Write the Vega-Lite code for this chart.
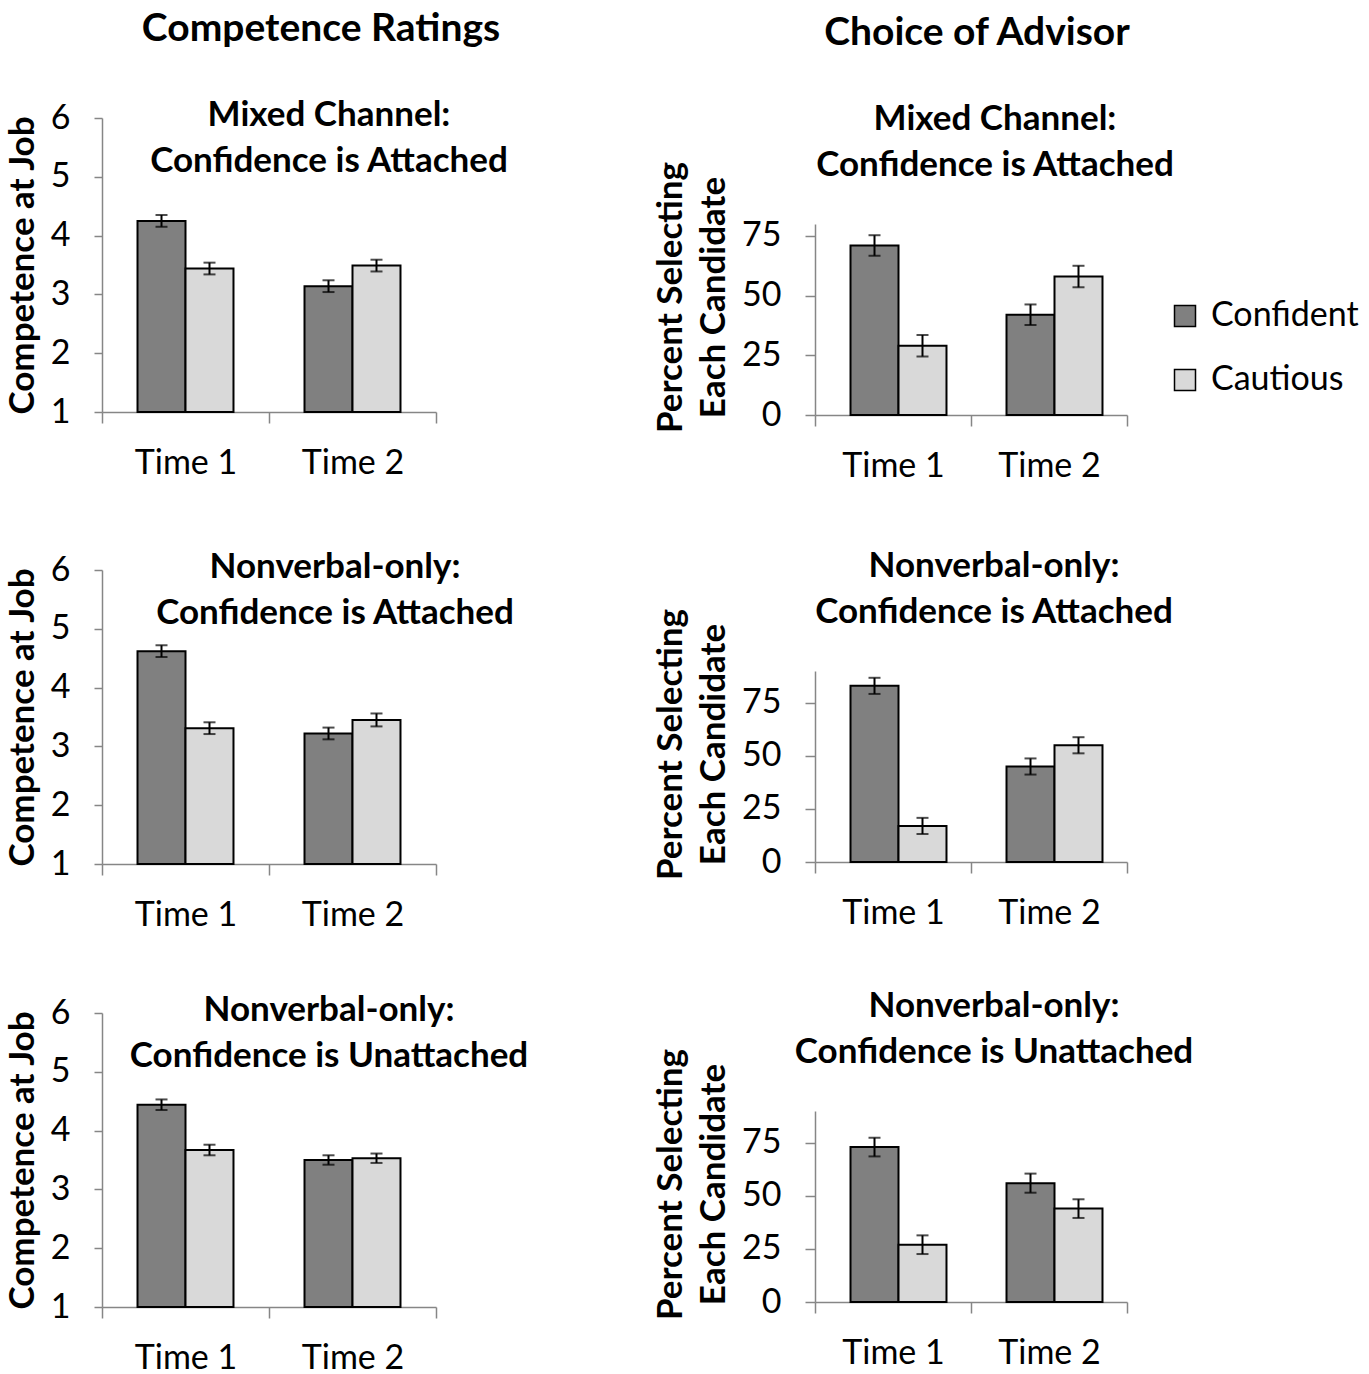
{
  "$schema": "https://vega.github.io/schema/vega-lite/v6.json",
  "background": "white",
  "padding": {"left": 5, "top": 10, "right": 0, "bottom": 0},
  "config": {
    "font": "Lato",
    "view": {"stroke": null},
    "axis": {"grid": false, "domainColor": "#868686", "domainWidth": 1.5, "tickColor": "#868686", "tickWidth": 1.5, "labelColor": "black", "labelFontSize": 34, "labelFont": "Lato", "titleFont": "Lato", "titleFontSize": 35, "titleFontWeight": "bold", "titleColor": "black"},
    "axisX": {"tickSize": 11, "labelPadding": 23, "labelAngle": 0, "tickBand": "extent"},
    "axisY": {"tickSize": 8, "labelPadding": 24, "titlePadding": 10, "format": "d"},
    "title": {"font": "Lato", "fontSize": 35, "fontWeight": "bold", "color": "black", "frame": "group", "lineHeight": 46}
  },
  "datasets": {
    "d": [
      {"panel": "A1", "time": "Time 1", "cond": "Confident", "value": 4.25, "lo": 4.15, "hi": 4.35},
      {"panel": "A1", "time": "Time 1", "cond": "Cautious", "value": 3.44, "lo": 3.34, "hi": 3.54},
      {"panel": "A1", "time": "Time 2", "cond": "Confident", "value": 3.14, "lo": 3.04, "hi": 3.24},
      {"panel": "A1", "time": "Time 2", "cond": "Cautious", "value": 3.49, "lo": 3.39, "hi": 3.59},
      {"panel": "A2", "time": "Time 1", "cond": "Confident", "value": 4.62, "lo": 4.52, "hi": 4.72},
      {"panel": "A2", "time": "Time 1", "cond": "Cautious", "value": 3.31, "lo": 3.21, "hi": 3.41},
      {"panel": "A2", "time": "Time 2", "cond": "Confident", "value": 3.22, "lo": 3.12, "hi": 3.32},
      {"panel": "A2", "time": "Time 2", "cond": "Cautious", "value": 3.45, "lo": 3.34, "hi": 3.56},
      {"panel": "A3", "time": "Time 1", "cond": "Confident", "value": 4.44, "lo": 4.35, "hi": 4.53},
      {"panel": "A3", "time": "Time 1", "cond": "Cautious", "value": 3.67, "lo": 3.58, "hi": 3.76},
      {"panel": "A3", "time": "Time 2", "cond": "Confident", "value": 3.50, "lo": 3.42, "hi": 3.58},
      {"panel": "A3", "time": "Time 2", "cond": "Cautious", "value": 3.53, "lo": 3.45, "hi": 3.61},
      {"panel": "B1", "time": "Time 1", "cond": "Confident", "value": 71, "lo": 66.7, "hi": 75.3},
      {"panel": "B1", "time": "Time 1", "cond": "Cautious", "value": 29, "lo": 24.5, "hi": 33.5},
      {"panel": "B1", "time": "Time 2", "cond": "Confident", "value": 42, "lo": 37.7, "hi": 46.3},
      {"panel": "B1", "time": "Time 2", "cond": "Cautious", "value": 58, "lo": 53.5, "hi": 62.5},
      {"panel": "B2", "time": "Time 1", "cond": "Confident", "value": 83, "lo": 79.2, "hi": 86.8},
      {"panel": "B2", "time": "Time 1", "cond": "Cautious", "value": 17, "lo": 13.2, "hi": 20.8},
      {"panel": "B2", "time": "Time 2", "cond": "Confident", "value": 45, "lo": 41.2, "hi": 48.8},
      {"panel": "B2", "time": "Time 2", "cond": "Cautious", "value": 55, "lo": 51.2, "hi": 58.8},
      {"panel": "B3", "time": "Time 1", "cond": "Confident", "value": 73, "lo": 68.6, "hi": 77.4},
      {"panel": "B3", "time": "Time 1", "cond": "Cautious", "value": 27, "lo": 22.6, "hi": 31.4},
      {"panel": "B3", "time": "Time 2", "cond": "Confident", "value": 56, "lo": 51.5, "hi": 60.5},
      {"panel": "B3", "time": "Time 2", "cond": "Cautious", "value": 44, "lo": 39.6, "hi": 48.4}
    ]
  },
  "resolve": {"legend": {"color": "independent"}, "scale": {"color": "independent"}},
  "spacing": 124,
  "hconcat": [
    {
      "resolve": {"legend": {"color": "independent"}, "scale": {"color": "independent"}},
      "spacing": 48,
      "vconcat": [
        {
          "width": 334, "height": 1,
          "data": {"values": []},
          "mark": {"type": "point", "opacity": 0},
          "title": {"text": "Competence Ratings", "fontSize": 39, "dx": 52, "offset": 0}
        },
        {
          "resolve": {"legend": {"color": "independent"}, "scale": {"color": "independent"}},
          "spacing": 70,
          "vconcat": [
            {
              "width": 334, "height": 294,
              "data": {"name": "d"},
              "title": {"text": ["Mixed Channel:", "Confidence is Attached"], "dx": 60, "offset": -78},
              "transform": [{"filter": "datum.panel === 'A1'"}],
              "encoding": {
                "x": {"field": "time", "type": "nominal", "title": null, "scale": {"paddingInner": 0, "paddingOuter": 0}},
                "xOffset": {"field": "cond", "type": "nominal", "sort": ["Confident", "Cautious"], "scale": {"paddingInner": 0, "paddingOuter": 0.74}}
              },
              "layer": [
                {"mark": {"type": "bar", "stroke": "black", "strokeWidth": 2},
                 "encoding": {
                   "y": {"field": "value", "type": "quantitative", "title": "Competence at Job", "scale": {"domain": [1, 6]}, "axis": {"values": [1, 2, 3, 4, 5, 6]}},
                   "y2": {"datum": 1},
                   "color": {"field": "cond", "type": "nominal", "scale": {"domain": ["Confident", "Cautious"], "range": ["#808080", "#d9d9d9"]}, "legend": null}}},
                {"mark": {"type": "rule", "strokeWidth": 2, "color": "black"}, "encoding": {"y": {"field": "lo", "type": "quantitative", "title": "Competence at Job"}, "y2": {"field": "hi"}}},
                {"mark": {"type": "tick", "thickness": 2, "size": 12, "color": "black"}, "encoding": {"y": {"field": "lo", "type": "quantitative", "title": "Competence at Job"}}},
                {"mark": {"type": "tick", "thickness": 2, "size": 12, "color": "black"}, "encoding": {"y": {"field": "hi", "type": "quantitative", "title": "Competence at Job"}}}
              ]
            },
            {
              "resolve": {"legend": {"color": "independent"}, "scale": {"color": "independent"}},
              "spacing": 61,
              "vconcat": [
                {
                  "width": 334, "height": 294,
                  "data": {"name": "d"},
                  "title": {"text": ["Nonverbal-only:", "Confidence is Attached"], "dx": 66, "offset": -78},
                  "transform": [{"filter": "datum.panel === 'A2'"}],
                  "encoding": {
                    "x": {"field": "time", "type": "nominal", "title": null, "scale": {"paddingInner": 0, "paddingOuter": 0}},
                    "xOffset": {"field": "cond", "type": "nominal", "sort": ["Confident", "Cautious"], "scale": {"paddingInner": 0, "paddingOuter": 0.74}}
                  },
                  "layer": [
                    {"mark": {"type": "bar", "stroke": "black", "strokeWidth": 2},
                     "encoding": {
                       "y": {"field": "value", "type": "quantitative", "title": "Competence at Job", "scale": {"domain": [1, 6]}, "axis": {"values": [1, 2, 3, 4, 5, 6]}},
                       "y2": {"datum": 1},
                       "color": {"field": "cond", "type": "nominal", "scale": {"domain": ["Confident", "Cautious"], "range": ["#808080", "#d9d9d9"]}, "legend": null}}},
                    {"mark": {"type": "rule", "strokeWidth": 2, "color": "black"}, "encoding": {"y": {"field": "lo", "type": "quantitative", "title": "Competence at Job"}, "y2": {"field": "hi"}}},
                    {"mark": {"type": "tick", "thickness": 2, "size": 12, "color": "black"}, "encoding": {"y": {"field": "lo", "type": "quantitative", "title": "Competence at Job"}}},
                    {"mark": {"type": "tick", "thickness": 2, "size": 12, "color": "black"}, "encoding": {"y": {"field": "hi", "type": "quantitative", "title": "Competence at Job"}}}
                  ]
                },
                {
                  "width": 334, "height": 294,
                  "data": {"name": "d"},
                  "title": {"text": ["Nonverbal-only:", "Confidence is Unattached"], "dx": 60, "offset": -78},
                  "transform": [{"filter": "datum.panel === 'A3'"}],
                  "encoding": {
                    "x": {"field": "time", "type": "nominal", "title": null, "scale": {"paddingInner": 0, "paddingOuter": 0}},
                    "xOffset": {"field": "cond", "type": "nominal", "sort": ["Confident", "Cautious"], "scale": {"paddingInner": 0, "paddingOuter": 0.74}}
                  },
                  "layer": [
                    {"mark": {"type": "bar", "stroke": "black", "strokeWidth": 2},
                     "encoding": {
                       "y": {"field": "value", "type": "quantitative", "title": "Competence at Job", "scale": {"domain": [1, 6]}, "axis": {"values": [1, 2, 3, 4, 5, 6]}},
                       "y2": {"datum": 1},
                       "color": {"field": "cond", "type": "nominal", "scale": {"domain": ["Confident", "Cautious"], "range": ["#808080", "#d9d9d9"]}, "legend": null}}},
                    {"mark": {"type": "rule", "strokeWidth": 2, "color": "black"}, "encoding": {"y": {"field": "lo", "type": "quantitative", "title": "Competence at Job"}, "y2": {"field": "hi"}}},
                    {"mark": {"type": "tick", "thickness": 2, "size": 12, "color": "black"}, "encoding": {"y": {"field": "lo", "type": "quantitative", "title": "Competence at Job"}}},
                    {"mark": {"type": "tick", "thickness": 2, "size": 12, "color": "black"}, "encoding": {"y": {"field": "hi", "type": "quantitative", "title": "Competence at Job"}}}
                  ]
                }
              ]
            }
          ]
        }
      ]
    },
    {
      "resolve": {"legend": {"color": "independent"}, "scale": {"color": "independent"}},
      "spacing": 49,
      "vconcat": [
        {
          "width": 312, "height": 1,
          "data": {"values": []},
          "mark": {"type": "point", "opacity": 0},
          "title": {"text": "Choice of Advisor", "fontSize": 39, "dx": 6, "offset": -4}
        },
        {
          "resolve": {"legend": {"color": "independent"}, "scale": {"color": "independent"}},
          "spacing": 66,
          "vconcat": [
            {
              "width": 312, "height": 191,
              "data": {"name": "d"},
              "title": {"text": ["Mixed Channel:", "Confidence is Attached"], "dx": 24, "offset": -22},
              "transform": [{"filter": "datum.panel === 'B1'"}],
              "encoding": {
                "x": {"field": "time", "type": "nominal", "title": null, "scale": {"paddingInner": 0, "paddingOuter": 0}},
                "xOffset": {"field": "cond", "type": "nominal", "sort": ["Confident", "Cautious"], "scale": {"paddingInner": 0, "paddingOuter": 0.74}}
              },
              "layer": [
                {"mark": {"type": "bar", "stroke": "black", "strokeWidth": 2},
                 "encoding": {
                   "y": {"field": "value", "type": "quantitative", "title": ["Percent Selecting", "Each Candidate"], "scale": {"domain": [0, 80]}, "axis": {"values": [0, 25, 50, 75], "tickSize": 10, "titleLineHeight": 43, "titleY": 73}},
                   "y2": {"datum": 0},
                   "color": {"field": "cond", "type": "nominal", "scale": {"domain": ["Confident", "Cautious"], "range": ["#808080", "#d9d9d9"]},
                     "legend": {"orient": "none", "legendX": 353, "legendY": 75, "title": null, "symbolType": "square", "symbolSize": 441, "symbolStrokeColor": "black", "symbolStrokeWidth": 1.5, "symbolOpacity": 1, "labelFontSize": 34, "labelFont": "Lato", "labelColor": "black", "labelOffset": 9, "rowPadding": 30}}}},
                {"mark": {"type": "rule", "strokeWidth": 2, "color": "black"}, "encoding": {"y": {"field": "lo", "type": "quantitative", "title": ["Percent Selecting", "Each Candidate"]}, "y2": {"field": "hi"}}},
                {"mark": {"type": "tick", "thickness": 2, "size": 12, "color": "black"}, "encoding": {"y": {"field": "lo", "type": "quantitative", "title": ["Percent Selecting", "Each Candidate"]}}},
                {"mark": {"type": "tick", "thickness": 2, "size": 12, "color": "black"}, "encoding": {"y": {"field": "hi", "type": "quantitative", "title": ["Percent Selecting", "Each Candidate"]}}}
              ]
            },
            {
              "resolve": {"legend": {"color": "independent"}, "scale": {"color": "independent"}},
              "spacing": 59,
              "vconcat": [
                {
                  "width": 312, "height": 191,
                  "data": {"name": "d"},
                  "title": {"text": ["Nonverbal-only:", "Confidence is Attached"], "dx": 23, "offset": -22},
                  "transform": [{"filter": "datum.panel === 'B2'"}],
                  "encoding": {
                    "x": {"field": "time", "type": "nominal", "title": null, "scale": {"paddingInner": 0, "paddingOuter": 0}},
                    "xOffset": {"field": "cond", "type": "nominal", "sort": ["Confident", "Cautious"], "scale": {"paddingInner": 0, "paddingOuter": 0.74}}
                  },
                  "layer": [
                    {"mark": {"type": "bar", "stroke": "black", "strokeWidth": 2},
                     "encoding": {
                       "y": {"field": "value", "type": "quantitative", "title": ["Percent Selecting", "Each Candidate"], "scale": {"domain": [0, 90]}, "axis": {"values": [0, 25, 50, 75], "tickSize": 10, "titleLineHeight": 43, "titleY": 73}},
                       "y2": {"datum": 0},
                       "color": {"field": "cond", "type": "nominal", "scale": {"domain": ["Confident", "Cautious"], "range": ["#808080", "#d9d9d9"]}, "legend": null}}},
                    {"mark": {"type": "rule", "strokeWidth": 2, "color": "black"}, "encoding": {"y": {"field": "lo", "type": "quantitative", "title": ["Percent Selecting", "Each Candidate"]}, "y2": {"field": "hi"}}},
                    {"mark": {"type": "tick", "thickness": 2, "size": 12, "color": "black"}, "encoding": {"y": {"field": "lo", "type": "quantitative", "title": ["Percent Selecting", "Each Candidate"]}}},
                    {"mark": {"type": "tick", "thickness": 2, "size": 12, "color": "black"}, "encoding": {"y": {"field": "hi", "type": "quantitative", "title": ["Percent Selecting", "Each Candidate"]}}}
                  ]
                },
                {
                  "width": 312, "height": 191,
                  "data": {"name": "d"},
                  "title": {"text": ["Nonverbal-only:", "Confidence is Unattached"], "dx": 23, "offset": -22},
                  "transform": [{"filter": "datum.panel === 'B3'"}],
                  "encoding": {
                    "x": {"field": "time", "type": "nominal", "title": null, "scale": {"paddingInner": 0, "paddingOuter": 0}},
                    "xOffset": {"field": "cond", "type": "nominal", "sort": ["Confident", "Cautious"], "scale": {"paddingInner": 0, "paddingOuter": 0.74}}
                  },
                  "layer": [
                    {"mark": {"type": "bar", "stroke": "black", "strokeWidth": 2},
                     "encoding": {
                       "y": {"field": "value", "type": "quantitative", "title": ["Percent Selecting", "Each Candidate"], "scale": {"domain": [0, 85]}, "axis": {"values": [0, 25, 50, 75], "tickSize": 10, "titleLineHeight": 43, "titleY": 73}},
                       "y2": {"datum": 0},
                       "color": {"field": "cond", "type": "nominal", "scale": {"domain": ["Confident", "Cautious"], "range": ["#808080", "#d9d9d9"]}, "legend": null}}},
                    {"mark": {"type": "rule", "strokeWidth": 2, "color": "black"}, "encoding": {"y": {"field": "lo", "type": "quantitative", "title": ["Percent Selecting", "Each Candidate"]}, "y2": {"field": "hi"}}},
                    {"mark": {"type": "tick", "thickness": 2, "size": 12, "color": "black"}, "encoding": {"y": {"field": "lo", "type": "quantitative", "title": ["Percent Selecting", "Each Candidate"]}}},
                    {"mark": {"type": "tick", "thickness": 2, "size": 12, "color": "black"}, "encoding": {"y": {"field": "hi", "type": "quantitative", "title": ["Percent Selecting", "Each Candidate"]}}}
                  ]
                }
              ]
            }
          ]
        }
      ]
    }
  ]
}
